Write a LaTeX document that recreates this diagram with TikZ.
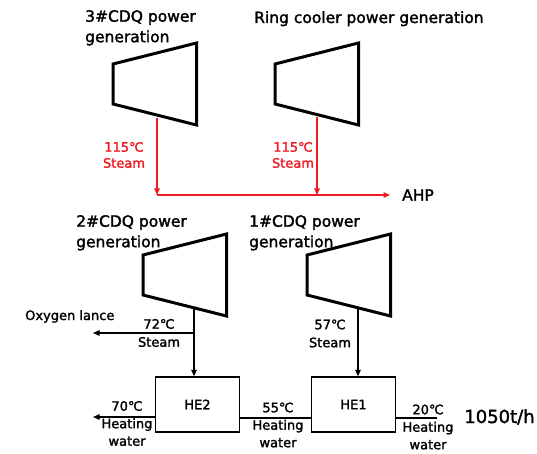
\documentclass[tikz,border=0pt]{standalone}
\usepackage{fontspec}
\setmainfont{DejaVu Sans}[FakeBold=1.8]
\usetikzlibrary{arrows.meta}
\definecolor{steamred}{RGB}{236,28,36}

\tikzset{
  turbine/.pic={\draw[line width=3pt,line join=miter] (0,-20) -- (83.5,-41) -- (83.5,41) -- (0,20) -- cycle;},
  title/.style={font=\fontsize{15.5}{20.5}\selectfont,align=left,inner sep=0pt,anchor=north west},
  tag/.style={font=\fontsize{13}{17.5}\selectfont,align=center,inner sep=0pt},
  pipe/.style={line width=1.3pt},
  flow/.style={pipe,-{Triangle[length=6.5pt,width=5.5pt]}},
  hexch/.style={draw,line width=1.3pt,minimum width=84pt,minimum height=55pt,font=\fontsize{13}{15}\selectfont},
}

\begin{document}
\begin{tikzpicture}[x=1pt,y=-1pt]
  \useasboundingbox (0,0) rectangle (537,454);
  % turbines
  \foreach \name/\x/\y in {t1/113/84, t2/275/84, t3/143/275, t4/307/275}
    \pic (\name) at (\x,\y) {turbine};
  \node[title] (cdq3) at (85,10) {3\#CDQ power\\generation};
  \node[title] (ring) at (254,11) {Ring cooler power generation};
  \node[title] (cdq2) at (76,215) {2\#CDQ power\\generation};
  \node[title] (cdq1) at (249,215) {1\#CDQ power\\generation};

  % steam to AHP
  \coordinate (s1) at (157,118);
  \coordinate (s2) at (317,117);
  \coordinate (j1) at (157,195);
  \node[title,anchor=west] (ahp) at (402,195) {AHP};
  \draw[flow,steamred] (s1) -- (j1);
  \draw[flow,steamred] (s2) -- (s2 |- j1);
  \draw[flow,steamred] (j1) -- ([xshift=-12pt]ahp.west);
  \node[tag,steamred,font=\fontsize{13}{16}\selectfont] (st1) at (124,155) {115℃\\Steam};
  \node[tag,steamred,font=\fontsize{13}{16}\selectfont] (st2) at (293,155) {115℃\\Steam};

  % heat exchangers
  \node[hexch] (he2) at (197.5,404.5) {HE2};
  \node[hexch] (he1) at (353.5,404.5) {HE1};
  \coordinate (s3) at (194,309);
  \coordinate (s4) at (358,309);
  \coordinate (oxy) at (93,333);
  \draw[flow] (s3) -- (s3 |- he2.north);
  \draw[flow] (s4) -- (s4 |- he1.north);
  \draw[flow] (s3 |- oxy) -- (oxy);
  \node[tag,anchor=base west] (lance) at (25,320) {Oxygen lance};
  \node[tag,font=\fontsize{13}{18}\selectfont] (v72) at (159,333) {72℃\\Steam};
  \node[tag,font=\fontsize{13}{18}\selectfont] (v57) at (330,333.5) {57℃\\Steam};

  % heating water
  \coordinate (win) at (437,418);
  \coordinate (wout) at (93,417);
  \draw[pipe] (win) -- (win -| he1.east);
  \draw[pipe] (he1.west |- win) -- (he2.east |- win);
  \draw[flow] (he2.west |- wout) -- (wout);
  \node[tag] (w70) at (127,423.5) {70℃\\Heating\\water};
  \node[tag] (w55) at (278,425) {55℃\\Heating\\water};
  \node[tag] (w20) at (428,427) {20℃\\Heating\\water};
  \node[font=\fontsize{18}{20}\selectfont,inner sep=0pt] (rate) at (499.5,417) {1050t/h};
\end{tikzpicture}
\end{document}
